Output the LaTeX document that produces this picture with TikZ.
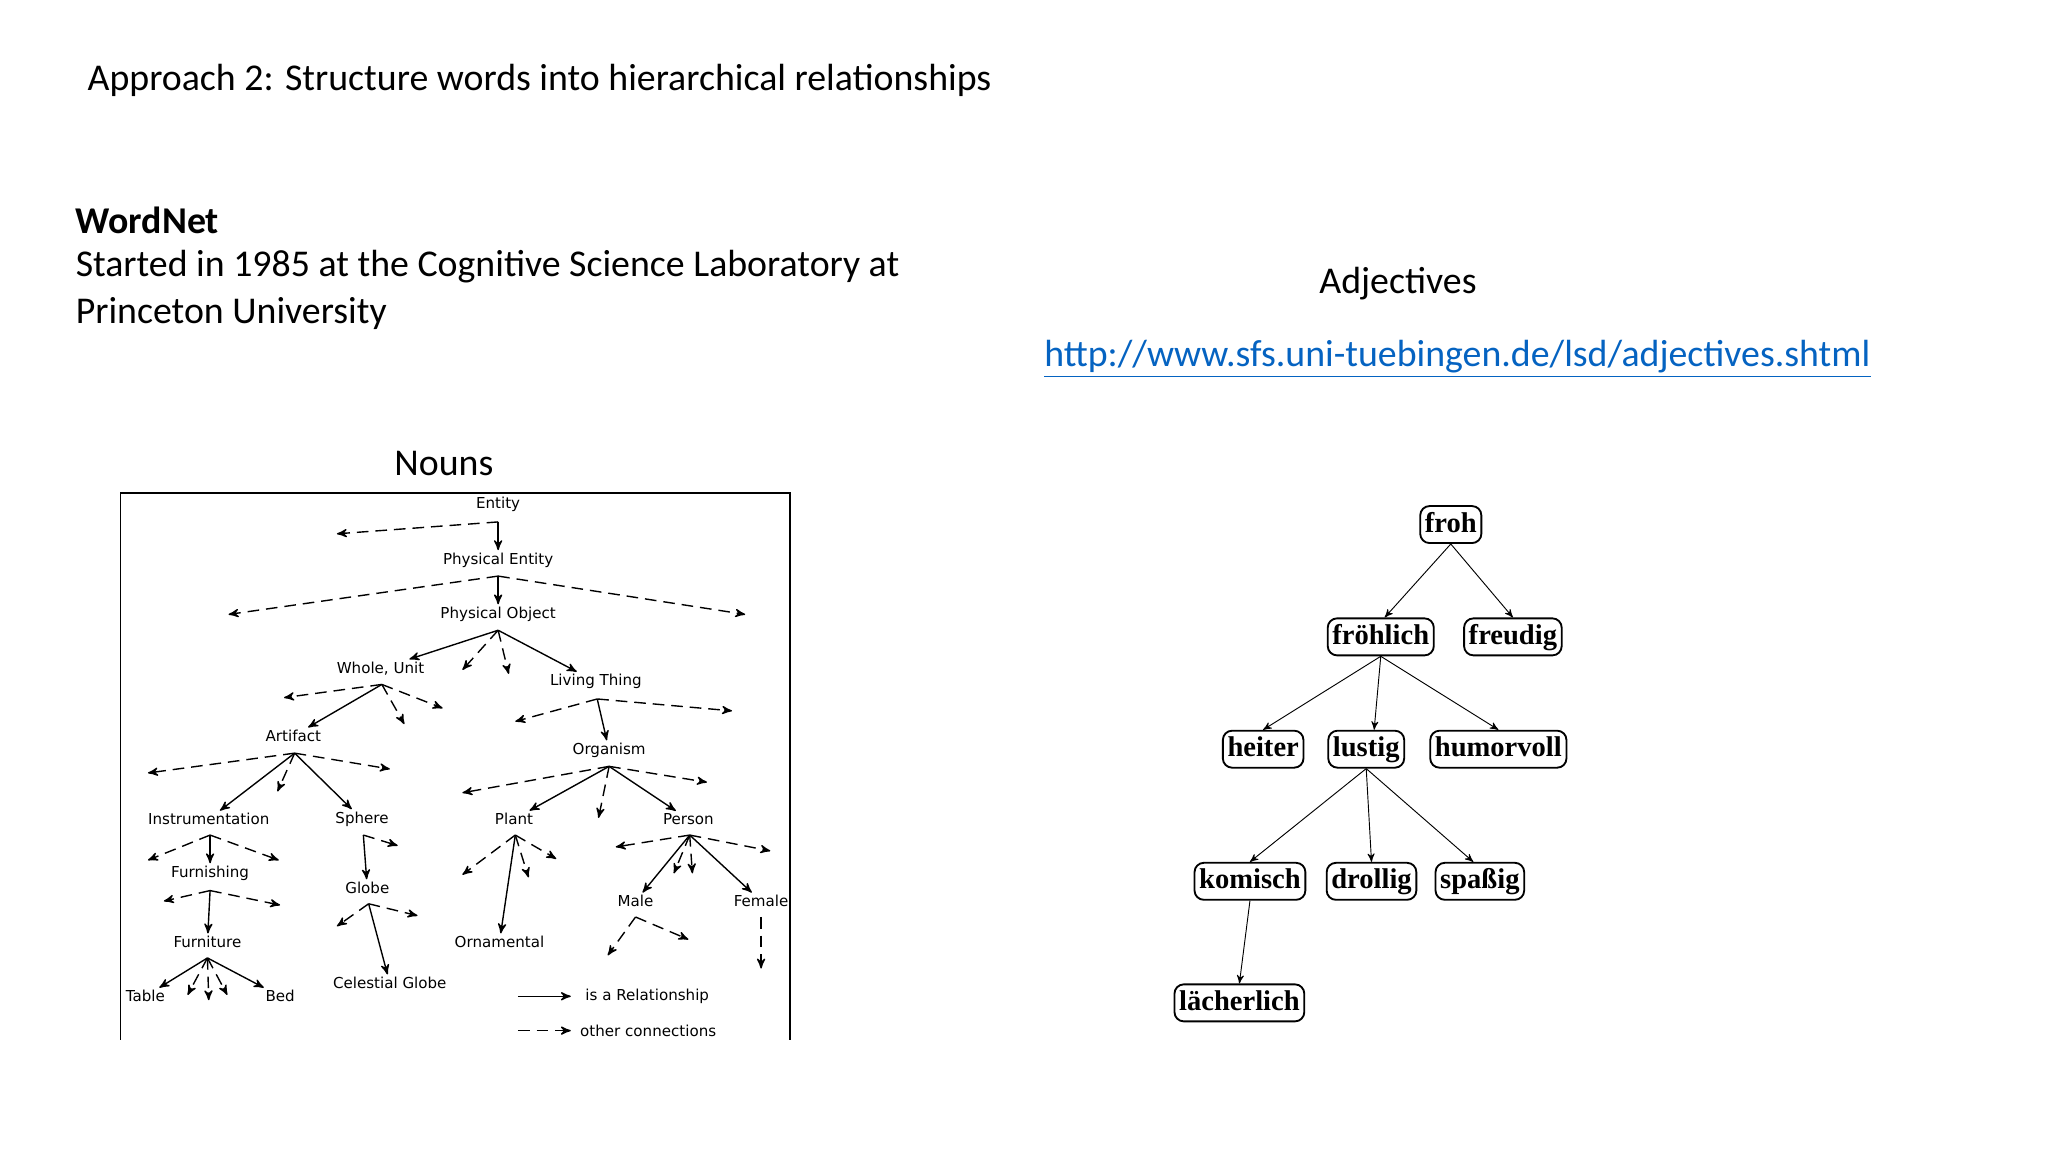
\documentclass[tikz,border=0pt]{standalone}
\usepackage{fontspec}
\setmainfont{Carlito}
\newfontfamily\treefont{DejaVu Sans}
\newfontfamily\adjfont{Liberation Serif}
\usetikzlibrary{arrows}
\usetikzlibrary{positioning}
\definecolor{linkblue}{RGB}{5,99,193}

\begin{document}
\begin{tikzpicture}[x=0.02cm,y=-0.02cm,>=stealth',
  lbl/.style={font=\fontsize{16.3}{19}\selectfont,anchor=west,inner sep=0pt},
  wn/.style={font=\treefont\fontsize{6.5}{7}\selectfont,inner sep=1pt},
  isa/.style={->,semithick},
  oth/.style={->,semithick,dashed,dash pattern=on 5pt off 3pt},
  adj/.style={draw,rounded corners=4pt,thick,font=\adjfont\bfseries\fontsize{12.3}{14}\selectfont,
    inner xsep=2pt,inner ysep=0pt,text height=9pt,text depth=2.5pt,minimum height=28*0.02cm},
  ad/.style={->,thin}]
\useasboundingbox (0,0) rectangle (1550,872);

% Texts
\node[lbl] (title) at (66,61) {Approach 2: Structure words into hierarchical relationships};
\node[lbl,font=\fontsize{16.3}{19}\selectfont\bfseries] (wnet) at (57,167) {WordNet};
\node[lbl] (start1) at (57,202) {Started in 1985 at the Cognitive Science Laboratory at};
\node[lbl] (start2) at (57,237) {Princeton University};
\node[lbl,anchor=center] (adjs) at (1058,215) {Adjectives};
\node[lbl,text=linkblue] (url) at (790,272) {\underline{http://www.sfs.uni-tuebingen.de/lsd/adjectives.shtml}};
\node[lbl,anchor=center] (nouns) at (336,351) {Nouns};

% Frame of the noun picture
\draw[semithick] (91,787) -- (91,373) -- (598,373) -- (598,787);

% Noun nodes
\node[wn] (Ent) at (377,382) {Entity};
\node[wn] (PhE) at (377,424) {Physical Entity};
\node[wn] (PhO) at (377,465) {Physical Object};
\node[wn] (Who) at (288,506) {Whole, Unit};
\node[wn] (Liv) at (451,516) {Living Thing};
\node[wn] (Art) at (222,557) {Artifact};
\node[wn] (Org) at (461,568) {Organism};
\node[wn] (Ins) at (158,620) {Instrumentation};
\node[wn] (Sph) at (274,620) {Sphere};
\node[wn] (Pla) at (389,620) {Plant};
\node[wn] (Per) at (521,620) {Person};
\node[wn] (Fng) at (159,661) {Furnishing};
\node[wn] (Glo) at (278,672) {Globe};
\node[wn] (Mal) at (481,682) {Male};
\node[wn] (Fem) at (576,682) {Female};
\node[wn] (Fur) at (157,713) {Furniture};
\node[wn] (Orn) at (378,713) {Ornamental};
\node[wn] (Cel) at (295,744) {Celestial Globe};
\node[wn] (Tab) at (110,754) {Table};
\node[wn] (Bed) at (212,754) {Bed};

% Branch points
\coordinate (vEnt) at (377,395);
\coordinate (vPhE) at (377,436);
\coordinate (vPhO) at (377,477);
\coordinate (vWho) at (289,518);
\coordinate (vLiv) at (452,529);
\coordinate (vArt) at (223,570);
\coordinate (vOrg) at (461,580);
\coordinate (vIns) at (159,632);
\coordinate (vSph) at (275,632);
\coordinate (vPla) at (390,632);
\coordinate (vPer) at (522,632);
\coordinate (vFng) at (159,674);
\coordinate (vGlo) at (279,684);
\coordinate (vMal) at (481,694);
\coordinate (vFem) at (576,694);
\coordinate (vFur) at (157,725);

% is a relationships
\draw[isa] (vEnt) -- (PhE);
\draw[isa] (vPhE) -- (PhO);
\draw[isa] (vPhO) -- (Who);
\draw[isa] (vPhO) -- (Liv);
\draw[isa] (vWho) -- (Art);
\draw[isa] (vLiv) -- (Org);
\draw[isa] (vArt) -- (Ins);
\draw[isa] (vArt) -- (Sph);
\draw[isa] (vOrg) -- (Pla);
\draw[isa] (vOrg) -- (Per);
\draw[isa] (vIns) -- (Fng);
\draw[isa] (vSph) -- (Glo);
\draw[isa] (vPla) -- (Orn);
\draw[isa] (vPer) -- (Mal);
\draw[isa] (vPer) -- (Fem);
\draw[isa] (vFng) -- (Fur);
\draw[isa] (vGlo) -- (Cel);
\draw[isa] (vFur) -- (Tab);
\draw[isa] (vFur) -- (Bed);

% other connections
\draw[oth] (vEnt) -- (255,404);
\draw[oth] (vPhE) -- (173,465);
\draw[oth] (vPhE) -- (564,465);
\draw[oth] (vPhO) -- (350,507);
\draw[oth] (vPhO) -- (385,510);
\draw[oth] (vWho) -- (215,528);
\draw[oth] (vWho) -- (306,548);
\draw[oth] (vWho) -- (335,536);
\draw[oth] (vLiv) -- (390,546);
\draw[oth] (vLiv) -- (554,538);
\draw[oth] (vArt) -- (112,585);
\draw[oth] (vArt) -- (210,599);
\draw[oth] (vArt) -- (295,582);
\draw[oth] (vOrg) -- (350,600);
\draw[oth] (vOrg) -- (453,619);
\draw[oth] (vOrg) -- (535,592);
\draw[oth] (vIns) -- (112,651);
\draw[oth] (vIns) -- (211,651);
\draw[oth] (vSph) -- (301,640);
\draw[oth] (vPla) -- (350,662);
\draw[oth] (vPla) -- (400,664);
\draw[oth] (vPla) -- (421,650);
\draw[oth] (vPer) -- (466,641);
\draw[oth] (vPer) -- (510,661);
\draw[oth] (vPer) -- (524,661);
\draw[oth] (vPer) -- (583,644);
\draw[oth] (vFng) -- (124,682);
\draw[oth] (vFng) -- (212,685);
\draw[oth] (vGlo) -- (255,701);
\draw[oth] (vGlo) -- (316,693);
\draw[oth] (vMal) -- (460,723);
\draw[oth] (vMal) -- (521,711);
\draw[oth] (vFem) -- (576,733);
\draw[oth] (vFur) -- (142,753);
\draw[oth] (vFur) -- (158,757);
\draw[oth] (vFur) -- (172,753);

% Legend
\coordinate (lg1) at (392,754);
\coordinate (lg2) at (392,780);
\node[wn,anchor=west] (isaL) at (441,754) {is a Relationship};
\node[wn,anchor=west] (othL) at (437,780) {other connections};
\draw[isa] (lg1) -- ++(40,0);
\draw[oth] (lg2) -- ++(40,0);

% Adjective nodes
\node[adj] (froh) at (1098,397) {froh};
\node[adj] (froe) at (1045,482) {fröhlich};
\node[adj] (freu) at (1145,482) {freudig};
\node[adj] (heit) at (956,567) {heiter};
\node[adj] (lust) at (1034,567) {lustig};
\node[adj] (humo) at (1134,567) {humorvoll};
\node[adj] (komi) at (946,667) {komisch};
\node[adj] (drol) at (1038,667) {drollig};
\node[adj] (spas) at (1120,667) {spaßig};
\node[adj] (laec) at (938,759) {lächerlich};

\draw[ad] (froh.south) -- ([xshift=3*0.02cm]froe.north);
\draw[ad] (froh.south) -- (freu.north);
\draw[ad] (froe.south) -- (heit.north);
\draw[ad] (froe.south) -- ([xshift=6*0.02cm]lust.north);
\draw[ad] (froe.south) -- (humo.north);
\draw[ad] (lust.south) -- (komi.north);
\draw[ad] (lust.south) -- (drol.north);
\draw[ad] (lust.south) -- ([xshift=-5*0.02cm]spas.north);
\draw[ad] (komi.south) -- (laec.north);

\end{tikzpicture}
\end{document}
